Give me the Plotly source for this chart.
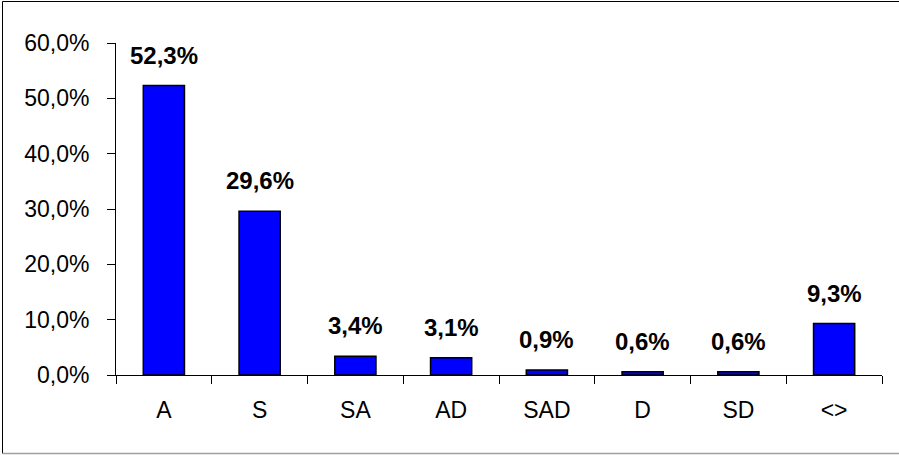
import plotly.graph_objects as go

categories = ["A", "S", "SA", "AD", "SAD", "D", "SD", "<>"]
shares = [52.3, 29.6, 3.4, 3.1, 0.9, 0.6, 0.6, 9.3]
share_labels = ["52,3%", "29,6%", "3,4%", "3,1%", "0,9%", "0,6%", "0,6%", "9,3%"]
y_tick_values = [0, 10, 20, 30, 40, 50, 60]
y_tick_labels = ["0,0%", "10,0%", "20,0%", "30,0%", "40,0%", "50,0%", "60,0%"]

FONT = "Liberation Sans, Arial, sans-serif"

fig = go.Figure(
    go.Bar(
        x=categories,
        y=shares,
        marker=dict(color="#0000FF", line=dict(color="black", width=1.5)),
        hoverinfo="skip",
    )
)

# value labels above each bar
for cat, val, txt in zip(categories, shares, share_labels):
    fig.add_annotation(
        x=cat, y=val, text=f"<b>{txt}</b>", showarrow=False,
        yanchor="bottom", yshift=15,
        font=dict(family=FONT, size=24, color="black"),
    )

W, H = 899, 455
L, R, T, B = 116, 17, 43, 80
pw, ph = W - L - R, H - T - B

# chart frame: dark top/left edges, lighter bottom edge
px = lambda v: (v - L) / pw
py = lambda v: (H - B - v) / ph
fig.add_shape(type="line", xref="paper", yref="paper",
              x0=px(2.5), x1=px(W + 5), y0=py(1.5), y1=py(1.5),
              line=dict(color="black", width=1))
fig.add_shape(type="line", xref="paper", yref="paper",
              x0=px(2.5), x1=px(2.5), y0=py(1.5), y1=py(453.5),
              line=dict(color="black", width=1))
fig.add_shape(type="line", xref="paper", yref="paper",
              x0=px(2.5), x1=px(W + 5), y0=py(453.5), y1=py(453.5),
              line=dict(color="#A0A0A0", width=1.5))

fig.update_layout(
    width=W, height=H,
    margin=dict(l=L, r=R, t=T, b=B),
    paper_bgcolor="white", plot_bgcolor="white",
    bargap=0.57,
    showlegend=False,
    font=dict(family=FONT, size=23, color="black"),
    xaxis=dict(
        showline=True, linecolor="black", linewidth=1,
        ticks="outside", tickson="boundaries", ticklen=8, tickcolor="black",
        tickfont=dict(size=23), ticklabelstandoff=14,
        showgrid=False, zeroline=False, fixedrange=True,
    ),
    yaxis=dict(
        range=[0, 60],
        tickvals=y_tick_values, ticktext=y_tick_labels,
        showline=True, linecolor="black", linewidth=1,
        ticks="outside", ticklen=8, tickcolor="black",
        tickfont=dict(size=23), ticklabelstandoff=13,
        showgrid=False, zeroline=False, fixedrange=True,
    ),
)

fig.write_html("out.html")
